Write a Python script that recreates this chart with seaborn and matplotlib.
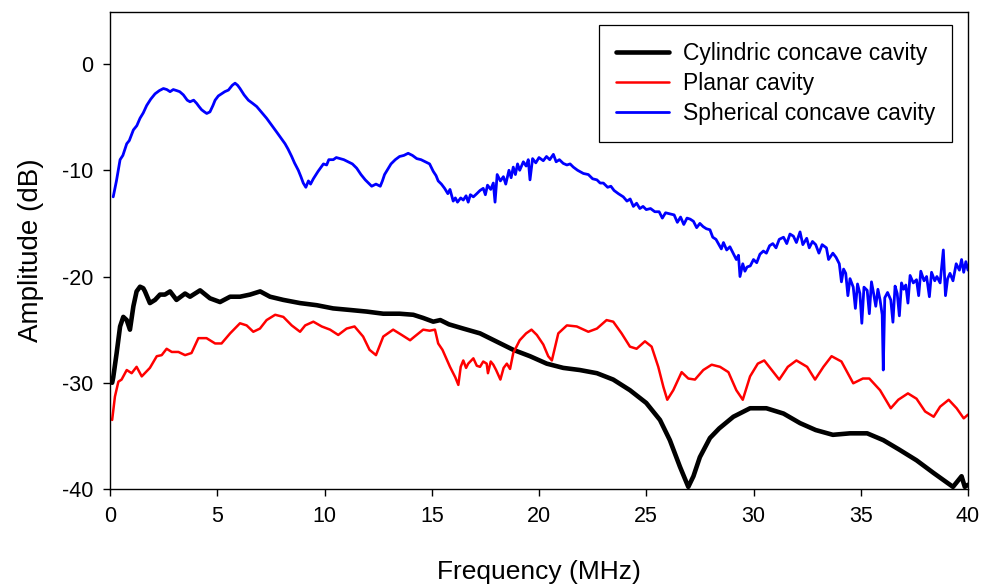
import matplotlib
matplotlib.use("Agg")
import matplotlib.pyplot as plt
import seaborn as sns
import pandas as pd

# ---- data ----
cyl_freq = [0.1, 0.15, 0.31, 0.47, 0.62, 0.78, 0.93, 1.09, 1.24, 1.4, 1.55, 1.63, 1.86, 2.1, 2.33,
            2.56, 2.8, 3.1, 3.5, 3.73, 4.2, 4.66, 5.13, 5.6, 6.06, 6.53, 7.0, 7.46, 8.08, 8.86,
            9.64, 10.4, 11.2, 11.97, 12.74, 13.5, 14.14, 14.6, 15.07, 15.4, 15.8, 16.47, 17.25,
            18.0, 18.8, 19.58, 20.36, 21.13, 21.9, 22.7, 23.46, 24.24, 25.0, 25.64, 26.1, 26.57,
            26.96, 27.2, 27.5, 27.97, 28.4, 29.06, 29.84, 30.6, 31.4, 32.17, 32.9, 33.7, 34.5,
            35.3, 36.05, 36.8, 37.6, 38.4, 38.85, 39.3, 39.5, 39.7, 39.85, 40.0]
cyl_db = [-30.0, -29.5, -27.2, -24.7, -23.8, -24.1, -25.0, -22.8, -21.4, -20.96, -21.1, -21.4,
          -22.5, -22.2, -21.7, -21.7, -21.4, -22.2, -21.6, -21.9, -21.3, -22.05, -22.4, -21.9,
          -21.9, -21.7, -21.4, -21.9, -22.2, -22.5, -22.7, -23.0, -23.15, -23.3, -23.5, -23.5,
          -23.6, -23.9, -24.25, -24.1, -24.5, -24.9, -25.35, -26.1, -26.9, -27.5, -28.2, -28.6,
          -28.8, -29.1, -29.7, -30.7, -31.9, -33.5, -35.4, -37.9, -39.8, -38.8, -37.0, -35.2,
          -34.3, -33.2, -32.4, -32.4, -32.9, -33.8, -34.45, -34.9, -34.76, -34.76, -35.4, -36.3,
          -37.3, -38.5, -39.15, -39.8, -39.3, -38.8, -39.8, -39.6]

planar_freq = [0.1, 0.23, 0.39, 0.54, 0.78, 1.01, 1.24, 1.48, 1.86, 2.18, 2.41, 2.64, 2.88, 3.19,
               3.5, 3.8, 4.12, 4.5, 4.9, 5.2, 5.6, 6.06, 6.37, 6.68, 6.99, 7.3, 7.7, 8.08, 8.47,
               8.86, 9.1, 9.48, 9.87, 10.26, 10.64, 11.03, 11.4, 11.8, 12.1, 12.4, 12.74, 13.2,
               13.6, 13.99, 14.2, 14.6, 14.9, 15.15, 15.3, 15.5, 15.85, 16.1, 16.24, 16.35, 16.47,
               16.6, 16.7, 16.94, 17.1, 17.25, 17.4, 17.56, 17.62, 17.75, 17.87, 18.0, 18.2,
               18.35, 18.5, 18.65, 18.8, 19.1, 19.4, 19.65, 19.9, 20.2, 20.43, 20.6, 20.9, 21.3,
               21.76, 22.3, 22.7, 23.15, 23.46, 23.85, 24.24, 24.55, 24.94, 25.25, 25.56, 25.8,
               25.98, 26.26, 26.65, 26.96, 27.27, 27.66, 28.05, 28.44, 28.83, 29.2, 29.5, 29.84,
               30.2, 30.5, 30.85, 31.2, 31.6, 32.0, 32.5, 32.87, 33.26, 33.64, 34.1, 34.65, 35.1,
               35.4, 35.9, 36.4, 36.75, 37.2, 37.6, 38.0, 38.4, 38.7, 39.1, 39.47, 39.8, 40.0]
planar_db = [-33.5, -31.3, -29.9, -29.7, -28.8, -29.1, -28.5, -29.4, -28.6, -27.5, -27.4, -26.8,
             -27.1, -27.1, -27.4, -27.2, -25.8, -25.8, -26.3, -26.3, -25.35, -24.4, -24.6, -25.2,
             -24.9, -24.1, -23.6, -23.8, -24.6, -25.2, -24.6, -24.25, -24.7, -25.0, -25.5, -24.9,
             -24.7, -25.65, -26.9, -27.4, -25.65, -25.0, -25.5, -26.0, -25.65, -25.0, -25.1,
             -25.0, -26.3, -26.9, -28.5, -29.5, -30.2, -28.5, -27.9, -28.6, -28.2, -27.7, -28.4,
             -28.5, -28.0, -28.2, -29.1, -28.0, -28.3, -28.8, -29.7, -28.6, -28.2, -28.7, -27.2,
             -26.0, -25.35, -25.0, -25.5, -26.4, -27.5, -27.9, -25.35, -24.6, -24.7, -25.2, -24.9,
             -24.1, -24.25, -25.35, -26.6, -26.8, -26.1, -26.6, -28.5, -30.4, -31.6, -30.7, -29.0,
             -29.6, -29.7, -28.8, -28.3, -28.5, -29.0, -30.7, -31.6, -29.4, -28.2, -27.9, -28.8,
             -29.7, -28.5, -27.9, -28.5, -29.7, -28.5, -27.5, -28.0, -30.05, -29.6, -29.6, -30.7,
             -32.4, -31.6, -31.0, -31.5, -32.7, -33.2, -32.25, -31.6, -32.4, -33.35, -33.0]

sph_freq = [0.15, 0.3, 0.47, 0.6, 0.78, 0.9, 1.09, 1.25, 1.4, 1.55, 1.71, 1.9, 2.1, 2.3, 2.49,
            2.65, 2.8, 2.95, 3.11, 3.25, 3.42, 3.6, 3.73, 3.9, 4.04, 4.15, 4.27, 4.4, 4.51, 4.66,
            4.8, 4.9, 5.05, 5.2, 5.35, 5.52, 5.7, 5.83, 5.95, 6.06, 6.25, 6.45, 6.65, 6.84, 7.05,
            7.3, 7.55, 7.77, 7.95, 8.16, 8.3, 8.47, 8.6, 8.78, 8.9, 9.01, 9.13, 9.25, 9.35, 9.48,
            9.7, 9.95, 10.1, 10.2, 10.41, 10.55, 10.72, 10.9, 11.1, 11.3, 11.5, 11.7, 11.9, 12.05,
            12.2, 12.4, 12.6, 12.7, 12.8, 12.95, 13.1, 13.3, 13.5, 13.7, 13.9, 14.1, 14.3, 14.5,
            14.7, 14.9, 15.07, 15.2, 15.3, 15.45, 15.6, 15.75, 15.85, 16.0, 16.1, 16.2, 16.35,
            16.47, 16.6, 16.7, 16.8, 16.94, 17.1, 17.25, 17.4, 17.5, 17.6, 17.75, 17.87, 17.95,
            18.05, 18.2, 18.34, 18.45, 18.6, 18.7, 18.8, 18.9, 19.0, 19.1, 19.27, 19.4, 19.5,
            19.58, 19.7, 19.85, 20.0, 20.2, 20.35, 20.5, 20.67, 20.8, 20.95, 21.13, 21.3, 21.45,
            21.6, 21.8, 22.07, 22.3, 22.5, 22.7, 22.85, 23.0, 23.2, 23.35, 23.5, 23.7, 23.93,
            24.1, 24.25, 24.4, 24.55, 24.7, 24.85, 25.0, 25.2, 25.4, 25.6, 25.75, 25.9, 26.1,
            26.3, 26.45, 26.6, 26.75, 26.9, 27.05, 27.2, 27.35, 27.5, 27.65, 27.8, 27.97, 28.1,
            28.25, 28.36, 28.5, 28.6, 28.75, 28.9, 29.05, 29.2, 29.3, 29.37, 29.5, 29.6, 29.7,
            29.85, 30.0, 30.15, 30.3, 30.46, 30.6, 30.75, 30.9, 31.05, 31.2, 31.4, 31.55, 31.7,
            31.86, 32.0, 32.17, 32.3, 32.48, 32.6, 32.75, 32.9, 33.05, 33.2, 33.4, 33.5, 33.7,
            33.85, 34.0, 34.1, 34.2, 34.3, 34.4, 34.5, 34.65, 34.75, 34.85, 34.96, 35.05, 35.15,
            35.3, 35.4, 35.5, 35.6, 35.7, 35.8, 35.9, 36.0, 36.05, 36.12, 36.25, 36.4, 36.5,
            36.6, 36.7, 36.8, 36.9, 37.0, 37.1, 37.2, 37.3, 37.45, 37.6, 37.7, 37.8, 37.95,
            38.07, 38.2, 38.3, 38.45, 38.55, 38.7, 38.85, 38.95, 39.05, 39.16, 39.3, 39.45,
            39.6, 39.7, 39.8, 39.9, 40.0]
sph_db = [-12.5, -11.0, -9.0, -8.6, -7.5, -7.2, -6.2, -5.8, -5.1, -4.6, -3.9, -3.3, -2.8, -2.5,
          -2.3, -2.4, -2.6, -2.4, -2.5, -2.6, -2.9, -3.4, -3.55, -3.4, -3.7, -4.0, -4.3, -4.5,
          -4.65, -4.5, -3.9, -3.4, -3.0, -2.8, -2.6, -2.45, -2.0, -1.8, -2.0, -2.3, -2.9, -3.4,
          -3.7, -4.0, -4.5, -5.1, -5.8, -6.4, -6.9, -7.5, -8.0, -8.7, -9.3, -10.0, -10.6, -11.2,
          -11.6, -11.0, -11.3, -10.8, -10.1, -9.4, -9.5, -9.0, -9.0, -8.8, -8.9, -9.0, -9.2,
          -9.4, -9.8, -10.4, -10.9, -11.2, -11.5, -11.3, -11.5, -11.0, -10.4, -9.9, -9.4, -9.0,
          -8.7, -8.6, -8.4, -8.6, -8.9, -9.0, -9.2, -9.4, -10.1, -10.5, -11.0, -11.3, -11.7,
          -12.2, -11.8, -12.9, -12.6, -13.0, -12.6, -12.8, -12.4, -13.0, -12.3, -12.5, -12.2,
          -11.9, -11.7, -12.3, -11.4, -11.8, -11.2, -13.0, -10.4, -11.0, -10.6, -11.3, -10.0,
          -10.7, -9.7, -10.4, -9.4, -10.0, -9.2, -9.6, -9.0, -10.9, -8.9, -9.3, -8.8, -9.1,
          -8.7, -9.0, -8.5, -9.2, -9.0, -9.35, -9.5, -9.4, -9.7, -10.0, -10.3, -10.4, -10.8,
          -10.9, -11.2, -11.2, -11.6, -11.5, -11.9, -12.2, -12.5, -12.9, -12.7, -13.4, -13.1,
          -13.6, -13.4, -13.7, -13.6, -13.9, -13.9, -14.5, -14.0, -14.1, -14.2, -14.9, -14.4,
          -15.1, -14.5, -14.6, -14.8, -15.4, -15.0, -15.3, -15.5, -15.6, -16.3, -16.5, -16.9,
          -17.4, -16.8, -17.5, -17.2, -17.8, -18.4, -18.0, -20.0, -18.8, -19.5, -19.1, -19.0,
          -18.4, -18.7, -17.9, -17.6, -17.8, -17.1, -16.9, -17.3, -16.5, -16.3, -16.9, -16.0,
          -16.2, -16.8, -15.8, -17.0, -16.4, -17.3, -16.7, -17.0, -17.8, -17.0, -17.3, -18.4,
          -17.8, -18.2, -18.8, -20.5, -19.3, -19.7, -21.8, -20.2, -21.0, -23.0, -20.7, -21.6,
          -24.4, -21.0, -21.3, -23.5, -20.5, -21.6, -22.8, -21.2, -22.2, -23.6, -28.8, -22.0,
          -21.5, -22.2, -24.3, -20.9, -21.6, -23.7, -20.6, -21.2, -20.8, -22.5, -19.9, -20.6,
          -20.3, -21.8, -19.5, -20.4, -20.0, -21.9, -19.6, -20.4, -20.0, -20.6, -17.5, -21.8,
          -20.2, -19.7, -20.4, -18.8, -19.4, -18.4, -19.6, -18.6, -19.4]

series_labels = ["Cylindric concave cavity", "Planar cavity", "Spherical concave cavity"]
x_ticks = [0, 5, 10, 15, 20, 25, 30, 35, 40]
y_ticks = [-40, -30, -20, -10, 0]

# ---- style ----
sns.set_style("ticks")
plt.rcParams["font.family"] = ["Liberation Sans", "DejaVu Sans"]
plt.rcParams["axes.unicode_minus"] = False
plt.rcParams["text.color"] = "black"
plt.rcParams["axes.labelcolor"] = "black"

fig = plt.figure(figsize=(9.82, 5.86), dpi=100)
ax = fig.add_axes([110 / 982, 1 - 489 / 586, 858 / 982, 477 / 586])

df_cyl = pd.DataFrame({"f": cyl_freq, "a": cyl_db})
df_pl = pd.DataFrame({"f": planar_freq, "a": planar_db})
df_sp = pd.DataFrame({"f": sph_freq, "a": sph_db})

sns.lineplot(data=df_cyl, x="f", y="a", ax=ax, color="black", lw=3.3, sort=False,
             estimator=None, label=series_labels[0])
sns.lineplot(data=df_pl, x="f", y="a", ax=ax, color="#ff0000", lw=1.8, sort=False,
             estimator=None, label=series_labels[1])
sns.lineplot(data=df_sp, x="f", y="a", ax=ax, color="#0000ff", lw=2.0, sort=False,
             estimator=None, label=series_labels[2])

ax.set_xlim(0, 40)
ax.set_ylim(-40, 4.9)
ax.set_xticks(x_ticks)
ax.set_yticks(y_ticks)
ax.set_xticklabels([str(t) for t in x_ticks])
ax.set_yticklabels([str(t) for t in y_ticks])
ax.tick_params(axis="both", direction="out", length=5, width=1, labelsize=15.5, pad=7,
               colors="black")
for s in ax.spines.values():
    s.set_linewidth(1.0)
    s.set_color("black")
    s.set_visible(True)

ax.set_xlabel("Frequency (MHz)", fontsize=19, labelpad=24, color="black")
ax.set_ylabel("Amplitude (dB)", fontsize=20, labelpad=13, color="black")

leg = ax.legend(loc="upper right", bbox_to_anchor=((952 - 110) / 858, (489 - 25) / 477),
                borderaxespad=0, fontsize=16.5, frameon=True, fancybox=False,
                handlelength=2.3, handletextpad=0.6, labelspacing=0.3,
                borderpad=0.75)
leg.get_frame().set_edgecolor("black")
leg.get_frame().set_linewidth(0.9)
leg.get_frame().set_alpha(1)
for t in leg.get_texts():
    t.set_color("black")

fig.savefig("out.png", dpi=100)
